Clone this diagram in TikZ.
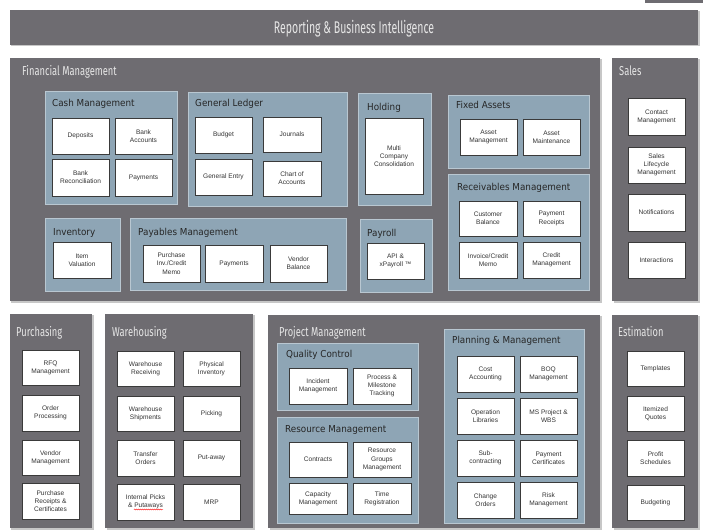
\documentclass[tikz,border=0pt]{standalone}
\usepackage{fontspec}
\setmainfont{Liberation Sans}
\newfontfamily\ttlfont[FakeStretch=0.62]{Fira Sans}
\newfontfamily\pnlfont[FakeStretch=0.72]{Fira Sans}
\newfontfamily\subfont[FakeStretch=0.92]{DejaVu Sans}
\usetikzlibrary{shadows,decorations.pathmorphing}
\definecolor{panelgray}{HTML}{6E6C71}
\definecolor{subblue}{HTML}{8EA5B5}
\definecolor{subedge}{HTML}{B9C7D1}
\definecolor{boxedge}{HTML}{3A3A3A}
\definecolor{boxtext}{HTML}{333333}
\definecolor{titletext}{HTML}{E6E6E6}
\definecolor{subtext}{HTML}{262626}
\tikzset{
  panel/.style={rectangle, fill=panelgray, draw=none, inner sep=0pt, outer sep=0pt,
    drop shadow={shadow xshift=1.5bp, shadow yshift=-1.5bp, fill=black, opacity=0.22}},
  subpanel/.style={rectangle, fill=subblue, draw=subedge, line width=0.8bp, inner sep=0pt, outer sep=0pt,
    drop shadow={shadow xshift=1bp, shadow yshift=-1bp, fill=black, opacity=0.25}},
  itembox/.style={rectangle, fill=white, draw=boxedge, line width=0.8bp, inner sep=0pt, outer sep=0pt,
    align=center, text=boxtext, font=\fontsize{6.6}{8.2}\selectfont,
    drop shadow={shadow xshift=0.8bp, shadow yshift=-0.8bp, fill=black, opacity=0.3}},
  bigtitle/.style={inner sep=0pt, text=titletext, font=\ttlfont\fontsize{17}{17}\selectfont},
  paneltitle/.style={inner sep=0pt, anchor=base west, text=titletext, font=\pnlfont\fontsize{13}{13}\selectfont},
  subtitle/.style={inner sep=0pt, anchor=base west, text=subtext, font=\subfont\fontsize{9.6}{9.6}\selectfont},
}
\newcommand\blk[7]{%
  \pgfmathsetmacro\myCX{(#3+#5)/2}%
  \pgfmathsetmacro\myCY{(#4+#6)/2}%
  \pgfmathsetmacro\myW{#5-#3}%
  \pgfmathsetmacro\myH{#6-#4}%
  \node[#1, minimum width=\myW bp, minimum height=\myH bp] (#2) at (\myCX,\myCY) {#7};}
\begin{document}
\begin{tikzpicture}[x=1bp,y=-1bp]
\useasboundingbox (0,0) rectangle (703,530);
\fill[white] (0,0) rectangle (703,530);
\fill[panelgray] (645,0) rectangle (703,3);

% top bar
\blk{panel}{top}{10}{10}{698}{45}{}
\node[bigtitle, anchor=base] (toptitle) at (354,34) {Reporting \& Business Intelligence};

% main panels
\blk{panel}{fin}{10}{58}{600}{301}{}
\blk{panel}{sales}{612}{58}{698}{301}{}
\blk{panel}{purch}{10}{314}{92}{528}{}
\blk{panel}{ware}{105}{314}{253}{528}{}
\blk{panel}{proj}{268}{315}{600}{528}{}
\blk{panel}{est}{612}{315}{698}{528}{}

\node[paneltitle] (fintitle) at (22,76) {Financial Management};
\node[paneltitle] (salestitle) at (619,76) {Sales};
\node[paneltitle] (purchtitle) at (16,336) {Purchasing};
\node[paneltitle] (waretitle) at (112,336) {Warehousing};
\node[paneltitle] (projtitle) at (279,336) {Project Management};
\node[paneltitle] (esttitle) at (618,336) {Estimation};

% sub panels
\blk{subpanel}{cash}{45}{91}{177}{204}{}
\blk{subpanel}{gl}{188}{92}{347}{206}{}
\blk{subpanel}{hold}{358}{93}{431}{205}{}
\blk{subpanel}{fixed}{448}{95}{589}{168}{}
\blk{subpanel}{recv}{448}{174}{589}{290}{}
\blk{subpanel}{inv}{45}{218}{120}{291}{}
\blk{subpanel}{pay}{130}{218}{346}{290}{}
\blk{subpanel}{payroll}{360}{219}{432}{292}{}
\blk{subpanel}{qc}{277}{343}{418}{410}{}
\blk{subpanel}{res}{277}{417}{418}{523}{}
\blk{subpanel}{plan}{444}{329}{584}{523}{}

\node[subtitle] (cashtitle) at (52,107) {Cash Management};
\node[subtitle] (gltitle) at (195,107) {General Ledger};
\node[subtitle] (holdtitle) at (367,111) {Holding};
\node[subtitle] (fixedtitle) at (456,109) {Fixed Assets};
\node[subtitle] (recvtitle) at (457,191) {Receivables Management};
\node[subtitle] (invtitle) at (53,236) {Inventory};
\node[subtitle] (paytitle) at (138,236) {Payables Management};
\node[subtitle] (payrolltitle) at (367,237) {Payroll};
\node[subtitle] (qctitle) at (286,357) {Quality Control};
\node[subtitle] (restitle) at (285,432) {Resource Management};
\node[subtitle] (plantitle) at (452,343) {Planning \& Management};

% Cash management
\blk{itembox}{deposits}{52}{118}{109}{154}{Deposits}
\blk{itembox}{bankacc}{115}{118}{172}{154}{Bank\\Accounts}
\blk{itembox}{bankrec}{52}{159}{109}{196}{Bank\\Reconciliation}
\blk{itembox}{cashpay}{115}{159}{172}{196}{Payments}
% General ledger
\blk{itembox}{budget}{195}{117}{252}{153}{Budget}
\blk{itembox}{journals}{263}{117}{321}{152}{Journals}
\blk{itembox}{genentry}{195}{159}{252}{195}{General Entry}
\blk{itembox}{chart}{263}{161}{321}{196}{Chart of\\Accounts}
% Holding
\blk{itembox}{multi}{365}{118}{423}{194}{Multi\\Company\\Consolidation}
% Fixed assets
\blk{itembox}{assetman}{460}{119}{517}{155}{Asset\\Management}
\blk{itembox}{assetmaint}{523}{119}{580}{155}{Asset\\Maintenance}
% Receivables
\blk{itembox}{custbal}{459}{201}{517}{236}{Customer\\Balance}
\blk{itembox}{payrec}{523}{201}{580}{236}{Payment\\Receipts}
\blk{itembox}{invcred}{459}{242}{517}{278}{Invoice/Credit\\Memo}
\blk{itembox}{credman}{523}{242}{580}{278}{Credit\\Management}
% Inventory
\blk{itembox}{itemval}{53}{242}{111}{278}{Item\\Valuation}
% Payables
\blk{itembox}{purinv}{143}{245}{200}{282}{Purchase\\Inv./Credit\\Memo}
\blk{itembox}{paypay}{205}{245}{263}{282}{Payments}
\blk{itembox}{vendbal}{270}{245}{327}{282}{Vendor\\Balance}
% Payroll
\blk{itembox}{api}{367}{243}{424}{279}{API \&\\xPayroll ™}
% Sales
\blk{itembox}{contact}{628}{98}{685}{135}{Contact\\Management}
\blk{itembox}{saleslife}{628}{147}{685}{183}{Sales\\Lifecycle\\Management}
\blk{itembox}{notif}{628}{194}{685}{231}{Notifications}
\blk{itembox}{interact}{628}{242}{685}{278}{Interactions}
% Purchasing
\blk{itembox}{rfq}{22}{350}{79}{385}{RFQ\\Management}
\blk{itembox}{orderproc}{22}{395}{79}{431}{Order\\Processing}
\blk{itembox}{vendman}{22}{440}{79}{475}{Vendor\\Management}
\blk{itembox}{purrec}{22}{483}{79}{519}{Purchase\\Receipts \&\\Certificates}
% Warehousing
\blk{itembox}{whrec}{117}{351}{174}{386}{Warehouse\\Receiving}
\blk{itembox}{physinv}{183}{351}{240}{386}{Physical\\Inventory}
\blk{itembox}{whship}{117}{396}{174}{431}{Warehouse\\Shipments}
\blk{itembox}{picking}{183}{396}{240}{431}{Picking}
\blk{itembox}{transfer}{117}{440}{174}{476}{Transfer\\Orders}
\blk{itembox}{putaway}{183}{440}{240}{476}{Put-away}
\blk{itembox}{intpicks}{117}{484}{174}{520}{Internal Picks\\\& Putaways}
\blk{itembox}{mrp}{183}{484}{240}{520}{MRP}
\draw[red, line width=0.4bp, decorate, decoration={snake, amplitude=0.5bp, segment length=2bp}] (134,509.5) -- (163,509.5);
% Quality control
\blk{itembox}{incident}{289}{368}{347}{404}{Incident\\Management}
\blk{itembox}{process}{353}{368}{411}{404}{Process \&\\Milestone\\Tracking}
% Resource management
\blk{itembox}{contracts}{289}{442}{347}{477}{Contracts}
\blk{itembox}{resgroups}{353}{442}{411}{477}{Resource\\Groups\\Management}
\blk{itembox}{capacity}{289}{483}{347}{514}{Capacity\\Management}
\blk{itembox}{timereg}{353}{483}{411}{514}{Time\\Registration}
% Planning & management
\blk{itembox}{costacc}{457}{356}{514}{392}{Cost\\Accounting}
\blk{itembox}{boq}{520}{356}{577}{392}{BOQ\\Management}
\blk{itembox}{oplib}{457}{398}{514}{434}{Operation\\Libraries}
\blk{itembox}{msproj}{520}{398}{577}{434}{MS Project \&\\WBS}
\blk{itembox}{subcon}{457}{440}{514}{476}{Sub-\\contracting}
\blk{itembox}{paycert}{520}{440}{577}{476}{Payment\\Certificates}
\blk{itembox}{change}{457}{482}{514}{518}{Change\\Orders}
\blk{itembox}{risk}{520}{482}{577}{518}{Risk\\Management}
% Estimation
\blk{itembox}{templates}{627}{351}{684}{386}{Templates}
\blk{itembox}{itemized}{627}{396}{684}{431}{Itemized\\Quotes}
\blk{itembox}{profit}{627}{440}{684}{476}{Profit\\Schedules}
\blk{itembox}{budgeting}{627}{485}{684}{520}{Budgeting}
\end{tikzpicture}
\end{document}
